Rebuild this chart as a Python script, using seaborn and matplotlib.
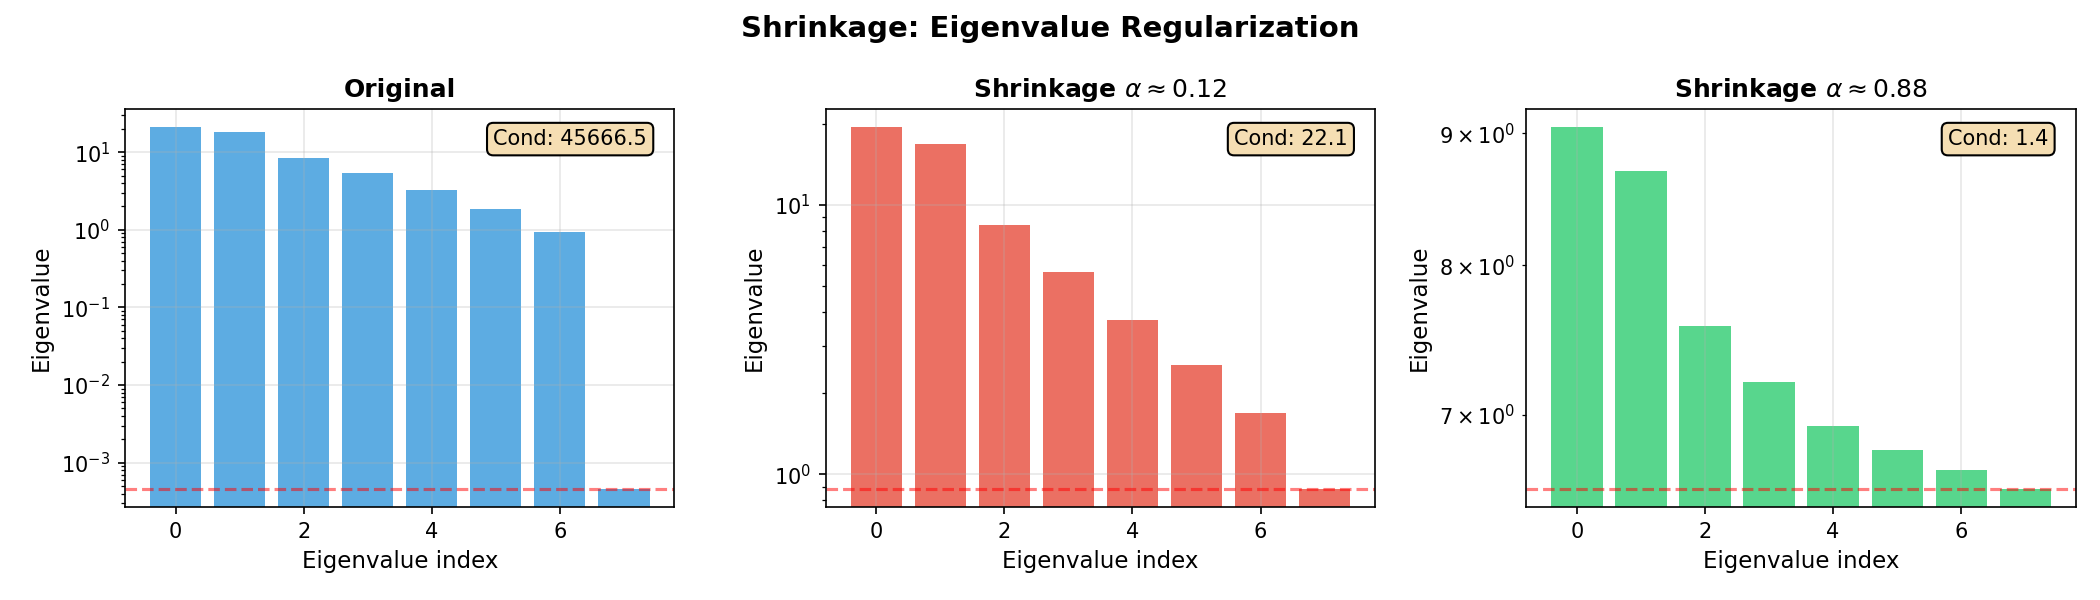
import numpy as np
import matplotlib
matplotlib.use("Agg")
import matplotlib.pyplot as plt
import seaborn as sns

# eigenvalues (sorted, largest first)
idx = np.arange(8)
eig_original = [20.9, 18.0, 8.34, 5.36, 3.22, 1.85, 0.934, 4.6e-4]
eig_shrink_012 = [19.4, 16.8, 8.41, 5.62, 3.73, 2.54, 1.69, 0.883]
eig_shrink_088 = [9.05, 8.70, 7.58, 7.21, 6.93, 6.78, 6.66, 6.55]

titles = ['Original', r'Shrinkage $\alpha \approx 0.12$', r'Shrinkage $\alpha \approx 0.88$']
cond_numbers = [45666.5, 22.1, 1.4]
colors = ['#3498db', '#e74c3c', '#2ecc71']

fig, axes = plt.subplots(1, 3, figsize=(14, 4), dpi=150)

for ax, vals, title, cond, color in zip(axes, [eig_original, eig_shrink_012, eig_shrink_088],
                                        titles, cond_numbers, colors):
    sns.barplot(x=idx, y=vals, native_scale=True, color=color, alpha=0.8,
                saturation=1, linewidth=0, width=0.8, ax=ax)
    ax.set_yscale('log')
    ax.axhline(min(vals), color='red', linestyle='--', alpha=0.5, linewidth=1.5)
    ax.set_xlabel('Eigenvalue index', fontsize=11)
    ax.set_ylabel('Eigenvalue', fontsize=11)
    ax.set_title(title, fontsize=12, fontweight='bold')
    ax.grid(True, alpha=0.3)
    ax.text(0.95, 0.95, f'Cond: {cond:.1f}', transform=ax.transAxes,
            ha='right', va='top', fontsize=10,
            bbox=dict(boxstyle='round', facecolor='wheat', edgecolor='black'))

fig.suptitle('Shrinkage: Eigenvalue Regularization', fontsize=14, fontweight='bold', y=0.975)
plt.subplots_adjust(left=0.0595, right=0.9885, bottom=0.155, top=0.818, wspace=0.275)
plt.savefig('out.png')
